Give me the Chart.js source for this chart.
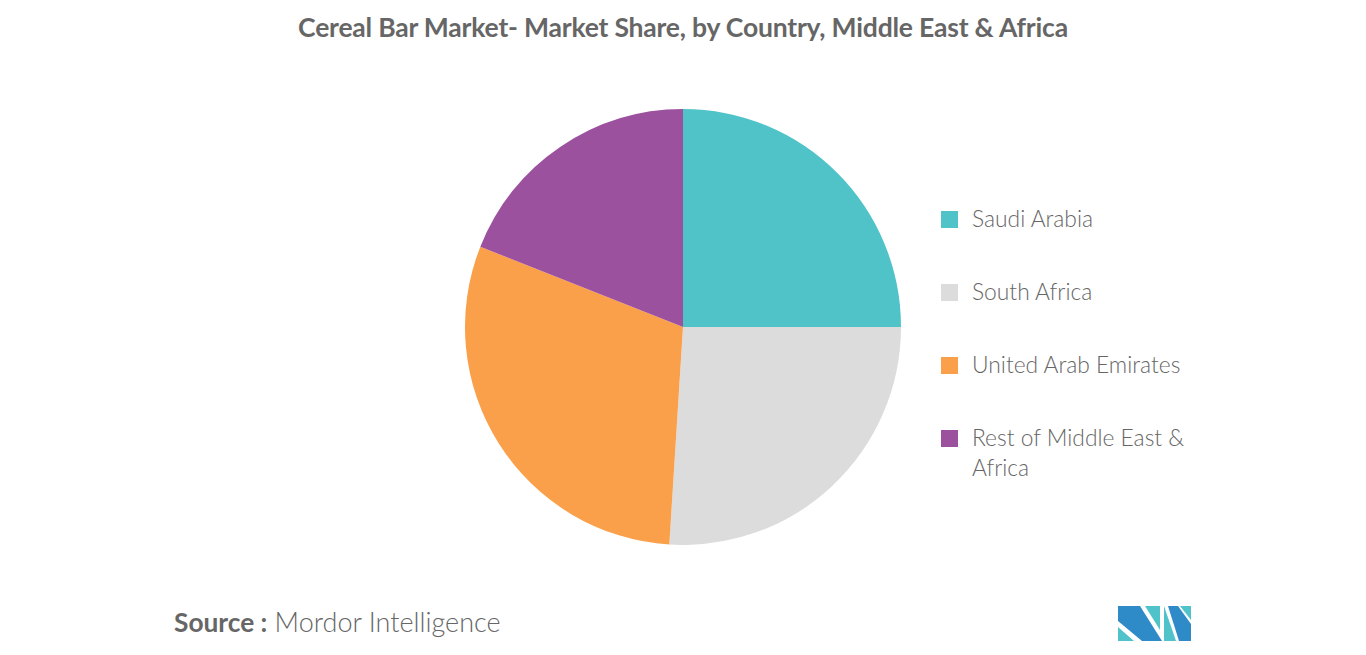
<!DOCTYPE html>
<html>
<head>
<meta charset="utf-8">
<script src="https://cdn.jsdelivr.net/npm/chart.js@4.4.0/dist/chart.umd.min.js"></script>
<style>
  html, body { margin:0; padding:0; background:#fff; width:1366px; height:655px; overflow:hidden; font-family: Lato, "Open Sans", sans-serif; }
  #title { position:absolute; left:0; width:1366px; top:11px; text-align:center; font-size:26.5px; font-weight:bold; color:#666; letter-spacing:-0.2px; }
  #wrap { position:absolute; left:465px; top:109px; width:436px; height:436px; }
  #legend { position:absolute; left:941px; top:204px; }
  .item { position:relative; height:73px; }
  .sw { position:absolute; left:0; top:7px; width:17px; height:17px; }
  .lab { position:absolute; left:31px; top:-1px; font-size:22.8px; font-weight:300; line-height:30px; color:#666; width:260px; }
  #source { position:absolute; left:174px; top:605px; font-size:26.3px; color:#666; font-weight:300; }
  #source span { font-size:27px; }
  #source b { font-weight:bold; }
  #logo { position:absolute; left:1116px; top:604px; }
</style>
</head>
<body>
<div id="title">Cereal Bar Market- Market Share, by Country, Middle East &amp; Africa</div>
<div id="wrap"><canvas id="c" width="436" height="436"></canvas></div>
<div id="legend"></div>
<div id="source"><b>Source :</b> <span>Mordor Intelligence</span></div>
<svg id="logo" width="78" height="40" viewBox="0 0 78 40">
  <polygon points="2,2 24,2 46,37 26,37 2,17" fill="#2E8BC7"/>
  <polygon points="2,23 2,37 18,37" fill="#4FC3C9"/>
  <polygon points="29,2 44,2 44,26" fill="#4FC3C9"/>
  <polygon points="48,2 48,37 60,37" fill="#4FC3C9"/>
  <polygon points="52,2 62,2 75,20 75,37 63,37" fill="#2E8BC7"/>
  <polygon points="64,2 75,2 75,16" fill="#4FC3C9"/>
</svg>
<script>
const categories = ["Saudi Arabia", "South Africa", "United Arab Emirates", "Rest of Middle East & Africa"];
const legendLines = [["Saudi Arabia"], ["South Africa"], ["United Arab Emirates"], ["Rest of Middle East &", "Africa"]];
const shares = [25, 26, 30, 19];
const colors = ["#50C3C9", "#DCDCDC", "#FBA04A", "#9C519E"];

const lg = document.getElementById('legend');
categories.forEach((c, i) => {
  const d = document.createElement('div'); d.className = 'item';
  const s = document.createElement('div'); s.className = 'sw'; s.style.background = colors[i];
  const l = document.createElement('div'); l.className = 'lab'; l.innerHTML = legendLines[i].join('<br>');
  d.appendChild(s); d.appendChild(l); lg.appendChild(d);
});

new Chart(document.getElementById('c'), {
  type: 'pie',
  data: { labels: categories, datasets: [{ data: shares, backgroundColor: colors, borderWidth: 0 }] },
  options: {
    responsive: false, animation: false,
    layout: { padding: 0 },
    plugins: { legend: { display: false }, tooltip: { enabled: false } }
  }
});
</script>
</body>
</html>
